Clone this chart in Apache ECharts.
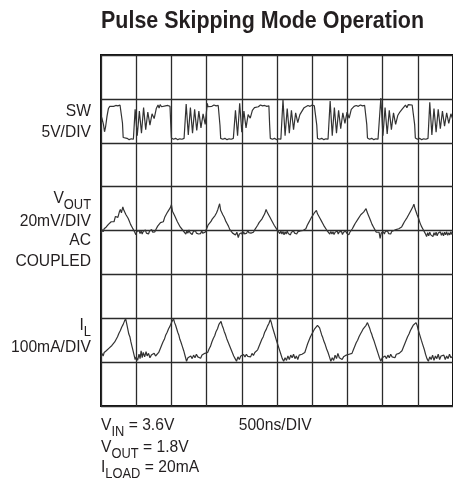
<!DOCTYPE html>
<html><head><meta charset="utf-8">
<script src="https://cdn.jsdelivr.net/npm/echarts@6/dist/echarts.min.js"></script>
<style>html,body{margin:0;padding:0;background:#fff}#c{width:453px;height:479px}</style>
</head><body><div id="c"></div>
<script>
// ---- Axis setup (time in divisions of 500ns, amplitude in screen divisions) ----
const xDivs = [0, 10];      // 10 horizontal divisions, 500ns/DIV
const yDivs = [0, 8];       // 8 vertical divisions

// ---- Trace data: [time (div), level (div)] ----
const swTrace = [
[0.00,6.30],[0.02,6.58],[0.04,6.62],[0.07,6.42],[0.10,6.25],[0.13,6.36],[0.17,6.60],[0.21,6.78],[0.25,6.83],[0.30,6.85],[0.36,6.83],[0.42,6.85],[0.48,6.84],[0.54,6.86],[0.59,6.83],
[0.61,6.45],[0.63,6.12],[0.68,6.08],[0.74,6.10],[0.80,6.07],[0.86,6.09],[0.92,6.08],[0.95,6.10],
[0.97,6.76],[1.03,6.16],[1.09,6.72],[1.15,6.22],[1.21,6.80],[1.27,6.30],[1.33,6.70],[1.39,6.40],[1.45,6.66],[1.51,6.55],[1.57,6.78],[1.62,6.86],[1.65,6.79],[1.68,6.87],[1.72,6.82],[1.77,6.86],[1.83,6.84],[1.90,6.85],[1.96,6.83],
[1.98,6.45],[2.00,6.11],[2.06,6.08],[2.12,6.10],[2.18,6.07],[2.24,6.09],[2.30,6.08],[2.36,6.10],[2.40,6.08],
[2.42,6.88],[2.48,6.18],[2.54,6.80],[2.60,6.22],[2.66,6.76],[2.72,6.28],[2.78,6.72],[2.84,6.34],[2.90,6.66],[2.96,6.42],[3.02,6.90],
[3.04,6.82],[3.09,6.85],[3.15,6.83],[3.21,6.86],[3.27,6.84],[3.33,6.85],[3.36,6.82],
[3.38,6.40],[3.40,6.10],[3.46,6.08],[3.52,6.10],[3.58,6.07],[3.64,6.09],[3.70,6.08],[3.76,6.10],[3.80,6.08],
[3.82,6.74],[3.88,6.16],[3.94,6.90],[4.00,6.24],[4.06,6.72],[4.12,6.34],[4.18,6.64],[4.24,6.56],[4.30,6.74],[4.36,6.80],[4.41,6.84],[4.47,6.82],[4.53,6.86],[4.59,6.84],[4.65,6.85],[4.71,6.83],[4.77,6.84],
[4.79,6.42],[4.81,6.10],[4.87,6.08],[4.93,6.10],[4.99,6.07],[5.05,6.09],[5.11,6.08],[5.15,6.10],
[5.17,6.98],[5.23,6.16],[5.29,6.78],[5.35,6.22],[5.41,6.74],[5.47,6.30],[5.53,6.68],[5.59,6.46],[5.65,6.64],[5.71,6.72],[5.77,6.80],[5.82,6.84],[5.88,6.85],[5.94,6.83],[6.00,6.86],[6.06,6.84],[6.11,6.83],
[6.13,6.40],[6.15,6.10],[6.21,6.08],[6.27,6.10],[6.33,6.07],[6.39,6.09],[6.45,6.08],[6.49,6.10],
[6.51,6.95],[6.57,6.16],[6.63,6.80],[6.69,6.22],[6.75,6.74],[6.81,6.32],[6.87,6.68],[6.93,6.44],[6.99,6.70],[7.05,6.56],[7.11,6.76],[7.16,6.80],
[7.19,6.83],[7.25,6.85],[7.31,6.83],[7.37,6.86],[7.43,6.84],[7.49,6.85],[7.53,6.83],
[7.55,6.42],[7.57,6.11],[7.63,6.08],[7.69,6.10],[7.75,6.07],[7.81,6.09],[7.87,6.08],[7.92,6.10],
[7.95,7.02],[8.01,6.16],[8.07,6.80],[8.13,6.20],[8.19,6.74],[8.25,6.30],[8.31,6.68],[8.37,6.42],[8.43,6.62],[8.49,6.70],[8.55,6.76],[8.60,6.80],[8.65,6.86],[8.69,6.80],[8.73,6.87],[8.78,6.83],[8.84,6.86],[8.89,6.84],
[8.91,6.42],[8.93,6.11],[8.99,6.08],[9.05,6.10],[9.11,6.07],[9.17,6.09],[9.23,6.08],[9.29,6.10],[9.32,6.08],
[9.34,6.92],[9.40,6.18],[9.46,6.78],[9.52,6.24],[9.58,6.76],[9.64,6.32],[9.70,6.72],[9.76,6.38],[9.82,6.68],[9.88,6.44],[9.94,6.66],[10.00,6.52]
];

const voutTrace = [
[0.00,3.94],[0.03,4.02],[0.06,3.97],[0.09,4.04],[0.12,4.00],[0.15,4.08],[0.18,4.06],[0.21,4.14],[0.25,4.12],[0.29,4.20],[0.33,4.24],[0.37,4.20],[0.41,4.32],[0.45,4.36],[0.48,4.30],[0.52,4.42],[0.55,4.48],[0.58,4.40],[0.62,4.54],[0.65,4.46],[0.68,4.50],[0.71,4.36],[0.74,4.40],[0.77,4.28],[0.80,4.22],[0.84,4.14],[0.88,4.08],[0.92,4.02],[0.96,3.96],
[0.99,3.90],[1.02,3.98],[1.05,3.94],[1.08,4.00],[1.11,3.93],[1.14,3.99],[1.17,3.92],[1.20,3.98],[1.23,3.95],[1.26,4.01],[1.29,3.94],[1.32,3.98],[1.35,3.92],[1.38,3.99],[1.41,3.95],[1.44,4.02],[1.47,3.96],[1.50,4.00],[1.53,3.97],
[1.57,4.04],[1.61,4.10],[1.65,4.08],[1.69,4.18],[1.73,4.22],[1.77,4.20],[1.81,4.30],[1.85,4.34],[1.89,4.42],[1.93,4.40],[1.97,4.52],[2.00,4.59],[2.03,4.44],[2.06,4.48],[2.09,4.34],[2.13,4.30],[2.17,4.20],[2.21,4.16],[2.25,4.08],[2.29,4.06],[2.33,4.00],[2.37,3.96],
[2.41,3.92],[2.44,3.99],[2.47,3.94],[2.50,4.01],[2.53,3.95],[2.56,3.98],[2.59,3.91],[2.62,3.97],[2.65,3.93],[2.68,4.00],[2.71,3.94],[2.74,3.98],[2.77,3.92],[2.80,3.96],[2.83,3.93],[2.86,3.99],[2.89,3.94],[2.92,3.98],[2.96,3.96],
[3.00,4.04],[3.04,4.12],[3.08,4.10],[3.12,4.20],[3.16,4.26],[3.20,4.24],[3.24,4.34],[3.28,4.40],[3.32,4.48],[3.35,4.56],[3.37,4.61],[3.40,4.46],[3.43,4.50],[3.46,4.36],[3.50,4.30],[3.54,4.22],[3.58,4.16],[3.62,4.10],[3.66,4.02],[3.70,3.98],[3.74,3.94],
[3.78,3.98],[3.82,3.90],[3.86,3.96],[3.90,3.84],[3.93,3.92],[3.96,3.88],[3.99,3.95],[4.02,3.90],[4.05,3.97],[4.08,3.92],[4.11,3.96],[4.14,3.94],[4.17,4.00],[4.20,3.95],[4.23,3.99],[4.26,3.94],[4.29,3.98],[4.33,3.96],[4.37,4.02],
[4.41,4.06],[4.45,4.12],[4.49,4.18],[4.53,4.16],[4.57,4.26],[4.61,4.30],[4.65,4.38],[4.69,4.48],[4.72,4.42],[4.76,4.36],[4.80,4.30],[4.84,4.24],[4.88,4.20],[4.92,4.12],[4.96,4.08],[5.00,4.02],[5.04,3.98],
[5.08,3.93],[5.11,3.99],[5.14,3.92],[5.17,3.98],[5.20,3.90],[5.23,3.97],[5.26,3.92],[5.29,3.99],[5.32,3.93],[5.35,3.97],[5.38,3.90],[5.41,3.96],[5.44,3.93],[5.47,3.99],[5.50,3.94],[5.53,3.98],[5.56,3.92],[5.59,3.97],[5.62,3.94],[5.66,3.99],[5.70,3.95],[5.74,4.00],[5.78,3.98],
[5.82,4.04],[5.86,4.12],[5.90,4.18],[5.94,4.24],[5.98,4.30],[6.02,4.34],[6.06,4.40],[6.09,4.38],[6.12,4.46],[6.15,4.38],[6.18,4.34],[6.22,4.28],[6.26,4.22],[6.30,4.16],[6.34,4.10],[6.38,4.06],[6.42,4.00],[6.46,3.96],[6.50,3.92],
[6.53,3.98],[6.56,3.92],[6.59,3.97],[6.62,3.91],[6.65,3.96],[6.68,3.93],[6.71,3.99],[6.74,3.92],[6.77,3.97],[6.80,3.93],[6.83,3.98],[6.86,3.91],[6.89,3.96],[6.92,3.93],[6.95,3.99],[6.98,3.94],[7.01,3.97],[7.04,3.90],[7.07,3.96],[7.10,3.98],
[7.14,4.04],[7.18,4.10],[7.22,4.16],[7.26,4.20],[7.30,4.26],[7.34,4.30],[7.38,4.36],[7.42,4.34],[7.46,4.42],[7.50,4.46],[7.53,4.50],[7.56,4.42],[7.59,4.36],[7.62,4.30],[7.66,4.22],[7.70,4.14],[7.74,4.08],[7.78,4.02],[7.82,3.96],[7.86,3.92],
[7.90,3.96],[7.93,3.82],[7.96,3.94],[7.99,3.90],[8.02,3.97],[8.05,3.92],[8.08,3.98],[8.11,3.94],[8.14,3.99],[8.17,3.93],[8.20,3.97],[8.23,3.92],[8.26,3.98],[8.29,3.95],[8.32,4.00],[8.35,3.96],[8.38,4.02],[8.42,3.98],[8.46,4.04],[8.50,4.02],
[8.54,4.08],[8.58,4.14],[8.62,4.20],[8.66,4.24],[8.70,4.30],[8.74,4.36],[8.78,4.40],[8.82,4.48],[8.86,4.54],[8.89,4.60],[8.92,4.50],[8.95,4.46],[8.98,4.36],[9.02,4.28],[9.06,4.18],[9.10,4.10],[9.14,4.04],[9.18,3.98],[9.22,3.92],
[9.25,3.86],[9.28,3.95],[9.31,3.88],[9.34,3.96],[9.37,3.90],[9.40,3.94],[9.43,3.86],[9.46,3.95],[9.49,3.89],[9.52,3.96],[9.55,3.88],[9.58,3.94],[9.61,3.90],[9.64,3.97],[9.67,3.89],[9.70,3.95],[9.73,3.88],[9.76,3.96],[9.79,3.90],[9.82,3.97],[9.85,3.89],[9.88,3.95],[9.91,3.90],[9.94,3.97],[9.97,3.91],[10.00,3.95]
];

const ilTrace = [
[0.00,1.12],[0.03,1.20],[0.06,1.14],[0.09,1.22],[0.12,1.18],[0.15,1.26],[0.19,1.22],[0.23,1.32],[0.27,1.28],[0.31,1.38],[0.35,1.35],[0.39,1.46],[0.43,1.44],[0.47,1.58],[0.51,1.66],[0.55,1.72],[0.59,1.80],[0.63,1.86],[0.67,1.94],[0.70,1.99],[0.73,1.88],[0.76,1.76],[0.79,1.64],[0.82,1.58],[0.85,1.46],[0.88,1.36],[0.91,1.26],[0.94,1.16],[0.97,1.06],
[1.00,1.12],[1.04,1.04],[1.08,1.18],[1.11,1.08],[1.14,1.26],[1.17,1.10],[1.20,1.22],[1.24,1.12],[1.28,1.24],[1.31,1.14],[1.35,1.20],[1.39,1.10],[1.43,1.16],[1.47,1.12],[1.51,1.20],[1.55,1.14],[1.60,1.18],[1.64,1.22],
[1.68,1.30],[1.72,1.38],[1.76,1.46],[1.80,1.52],[1.84,1.62],[1.88,1.68],[1.92,1.76],[1.96,1.82],[2.00,1.90],[2.03,1.94],[2.06,1.99],[2.09,1.90],[2.12,1.84],[2.15,1.76],[2.18,1.68],[2.21,1.62],[2.24,1.52],[2.27,1.46],[2.31,1.36],[2.35,1.26],[2.39,1.14],[2.43,1.02],
[2.47,1.10],[2.51,1.06],[2.55,1.14],[2.59,1.08],[2.63,1.16],[2.67,1.10],[2.71,1.18],[2.75,1.12],[2.79,1.15],[2.83,1.09],[2.87,1.16],[2.91,1.12],[2.95,1.20],[2.99,1.16],[3.03,1.22],
[3.07,1.30],[3.11,1.36],[3.15,1.46],[3.19,1.54],[3.23,1.60],[3.27,1.70],[3.31,1.76],[3.35,1.86],[3.38,1.88],[3.41,1.93],[3.44,1.84],[3.47,1.78],[3.50,1.70],[3.53,1.64],[3.57,1.54],[3.61,1.46],[3.65,1.38],[3.69,1.30],[3.73,1.22],[3.77,1.14],[3.81,1.08],[3.85,1.02],
[3.89,1.12],[3.93,1.06],[3.97,1.14],[4.01,1.10],[4.05,1.17],[4.09,1.12],[4.13,1.18],[4.17,1.13],[4.21,1.16],[4.25,1.12],[4.29,1.20],[4.33,1.15],[4.37,1.22],[4.41,1.18],
[4.45,1.28],[4.49,1.36],[4.53,1.44],[4.57,1.52],[4.61,1.58],[4.65,1.68],[4.69,1.74],[4.73,1.82],[4.77,1.88],[4.81,1.97],[4.84,1.90],[4.87,1.80],[4.90,1.72],[4.93,1.64],[4.96,1.56],[4.99,1.48],[5.03,1.38],[5.07,1.28],[5.11,1.18],[5.15,1.08],[5.19,1.02],
[5.23,1.10],[5.27,1.04],[5.31,1.14],[5.35,1.06],[5.39,1.16],[5.43,1.10],[5.47,1.18],[5.51,1.08],[5.55,1.14],[5.59,1.06],[5.63,1.16],[5.67,1.12],[5.71,1.18],[5.75,1.14],[5.79,1.22],
[5.83,1.32],[5.87,1.42],[5.91,1.50],[5.95,1.58],[5.99,1.64],[6.03,1.70],[6.07,1.76],[6.11,1.80],[6.15,1.84],[6.18,1.87],[6.21,1.78],[6.24,1.70],[6.27,1.62],[6.30,1.56],[6.33,1.48],[6.37,1.40],[6.41,1.30],[6.45,1.22],[6.49,1.12],[6.53,1.02],
[6.57,1.10],[6.61,1.04],[6.65,1.16],[6.69,1.08],[6.73,1.20],[6.77,1.10],[6.81,1.14],[6.85,1.06],[6.89,1.12],[6.93,1.08],[6.97,1.16],[7.01,1.12],[7.05,1.18],[7.09,1.14],[7.13,1.20],
[7.17,1.28],[7.21,1.36],[7.25,1.44],[7.29,1.50],[7.33,1.58],[7.37,1.64],[7.41,1.70],[7.45,1.76],[7.49,1.80],[7.53,1.84],[7.57,1.90],[7.60,1.86],[7.63,1.78],[7.66,1.70],[7.69,1.64],[7.72,1.56],[7.75,1.50],[7.79,1.40],[7.83,1.30],[7.87,1.20],[7.91,1.10],[7.95,1.02],
[7.99,1.10],[8.03,1.06],[8.07,1.14],[8.11,1.08],[8.15,1.16],[8.19,1.10],[8.23,1.18],[8.27,1.12],[8.31,1.16],[8.35,1.10],[8.39,1.18],[8.43,1.14],[8.47,1.20],[8.51,1.16],
[8.55,1.26],[8.59,1.34],[8.63,1.42],[8.67,1.50],[8.71,1.58],[8.75,1.64],[8.79,1.72],[8.83,1.78],[8.87,1.84],[8.91,1.86],[8.95,1.90],[8.98,1.84],[9.01,1.74],[9.04,1.66],[9.07,1.58],[9.10,1.50],[9.14,1.40],[9.18,1.30],[9.22,1.18],[9.26,1.08],[9.30,1.02],
[9.34,1.12],[9.38,1.06],[9.42,1.16],[9.46,1.04],[9.50,1.14],[9.54,1.08],[9.58,1.18],[9.62,1.06],[9.66,1.14],[9.70,1.10],[9.74,1.16],[9.78,1.06],[9.82,1.14],[9.86,1.08],[9.90,1.18],[9.94,1.10],[10.00,1.14]
];

// ---- Text content ----
const titleText = 'Pulse Skipping Mode Operation';
const swLabel   = [[['SW']], [['5V/DIV']]];
const voutLabel = [[['V'], ['OUT', 'sub']], [['20mV/DIV']], [['AC']], [['COUPLED']]];
const ilLabel   = [[['I'], ['L', 'sub']], [['100mA/DIV']]];
const condLines = [[['V'], ['IN', 'sub'], [' = 3.6V']], [['V'], ['OUT', 'sub'], [' = 1.8V']], [['I'], ['LOAD', 'sub'], [' = 20mA']]];
const timeBase  = [[['500ns/DIV']]];

// ---- rendering helpers ----
const FONT = '"Liberation Sans", Arial, sans-serif';
const MAIN = 17, SUB = 14, SUBDY = 6.5, SX = 0.92, INK = '#231f20';
const mctx = document.createElement('canvas').getContext('2d');
function tw(t, size, weight) { mctx.font = (weight || 'normal') + ' ' + size + 'px ' + FONT; return mctx.measureText(t).width; }
function line(parts, x, cy, align) {
  const segs = parts.map(p => ({ t: p[0], sub: p[1] === 'sub' }));
  const ws = segs.map(s => tw(s.t, s.sub ? SUB : MAIN) * SX);
  const total = ws.reduce((a, b) => a + b, 0);
  let cx = align === 'right' ? x - total : x;
  return segs.map((s, i) => {
    const el = { type: 'text', x: cx, y: cy + (s.sub ? SUBDY : 0), scaleX: SX, silent: true,
      style: { text: s.t, font: (s.sub ? SUB : MAIN) + 'px ' + FONT, fill: INK, align: 'left', verticalAlign: 'middle' } };
    cx += ws[i];
    return el;
  });
}
function block(lines, x, ys, align) { return lines.flatMap((l, i) => line(l, x, ys[i], align)); }

const graphics = [].concat(
  [{ type: 'text', x: 101, y: 21.5, scaleX: 0.894, silent: true,
     style: { text: titleText, font: 'bold 24px ' + FONT, fill: INK, align: 'left', verticalAlign: 'middle' } }],
  block(swLabel, 91, [111.2, 132.8], 'right'),
  block(voutLabel, 91, [198.8, 221.2, 240.8, 261.2], 'right'),
  block(ilLabel, 91, [325.5, 347.8], 'right'),
  block(condLines, 101, [425.3, 447.8, 467.2], 'left'),
  block(timeBase, 238.7, [425.3], 'left')
);

const chart = echarts.init(document.getElementById('c'), null, { renderer: 'canvas' });
const gridLine = { show: true, lineStyle: { color: '#2b2b2b', width: 1.3 } };
const traceStyle = { color: '#333', width: 1.2 };
chart.setOption({
  animation: false,
  backgroundColor: '#fff',
  grid: { left: 101, top: 55, width: 353, height: 351, show: true, borderColor: '#111', borderWidth: 2, backgroundColor: 'transparent' },
  xAxis: { type: 'value', min: xDivs[0], max: xDivs[1], interval: 1, axisLine: { show: false }, axisTick: { show: false }, axisLabel: { show: false }, splitLine: gridLine },
  yAxis: { type: 'value', min: yDivs[0], max: yDivs[1], interval: 1, axisLine: { show: false }, axisTick: { show: false }, axisLabel: { show: false }, splitLine: gridLine },
  series: [
    { name: 'SW', type: 'line', data: swTrace, showSymbol: false, lineStyle: traceStyle, silent: true },
    { name: 'VOUT', type: 'line', data: voutTrace, showSymbol: false, lineStyle: traceStyle, silent: true },
    { name: 'IL', type: 'line', data: ilTrace, showSymbol: false, lineStyle: traceStyle, silent: true }
  ],
  graphic: graphics
});
</script>
</body></html>
